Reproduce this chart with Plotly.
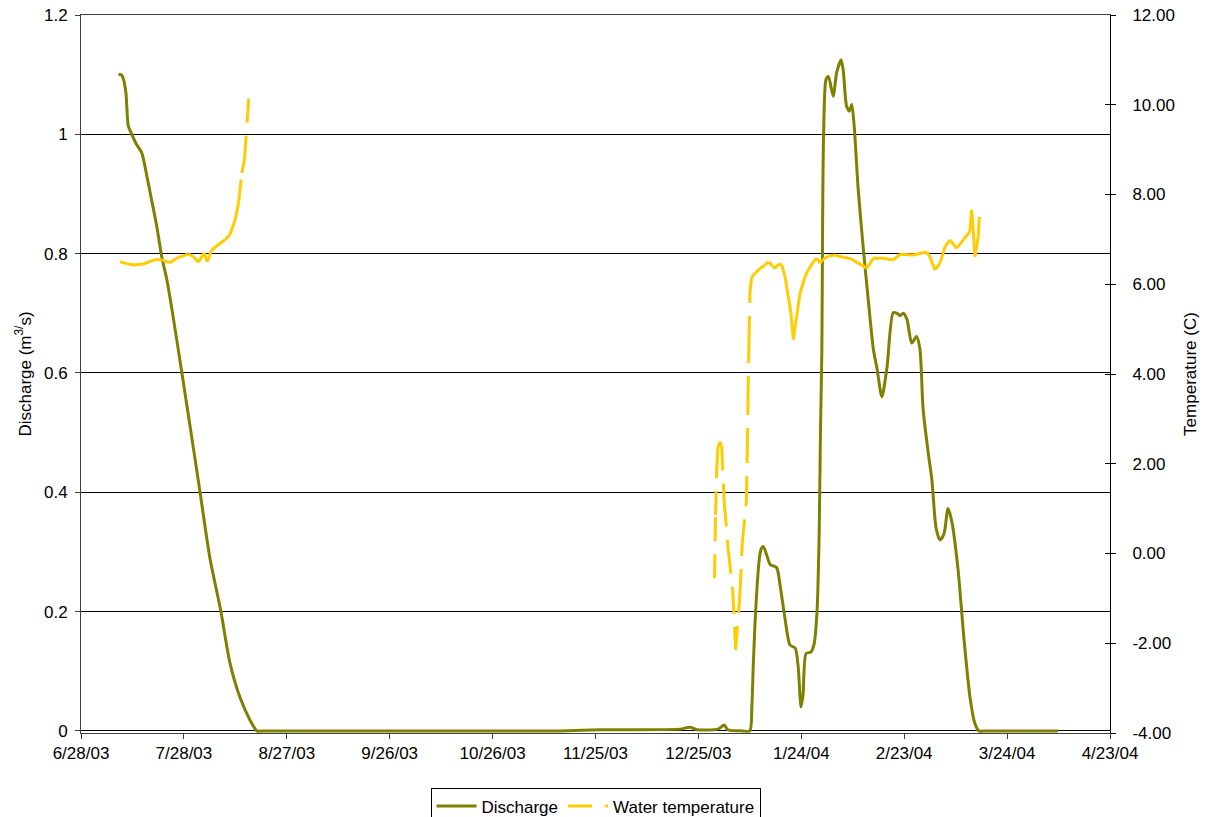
import plotly.graph_objects as go

# ---------------- data ----------------
discharge_dates = [
    "2003-07-08 22:00", "2003-07-09 17:00", "2003-07-10 07:00", "2003-07-11 02:00",
    "2003-07-11 19:00", "2003-07-12 19:00", "2003-07-14 05:00", "2003-07-15 17:00",
    "2003-07-17 05:00", "2003-07-18 14:00", "2003-07-20 02:00", "2003-07-21 12:00",
    "2003-07-23 00:00", "2003-07-24 12:00", "2003-07-27 10:00", "2003-07-30 02:00",
    "2003-08-01 17:00", "2003-08-04 14:00", "2003-08-07 19:00", "2003-08-10 10:00",
    "2003-08-13 10:00", "2003-08-16 07:00", "2003-08-18 07:00", "2003-08-20 12:00",
    "2003-11-12 00:00", "2003-11-14 17:00",
    "2003-11-26 07:00", "2003-12-19 14:00", "2003-12-22 14:00", "2003-12-24 14:00",
    "2003-12-30 17:00", "2004-01-01 12:00", "2004-01-02 14:00", "2004-01-07 00:00",
    "2004-01-09 00:00",
    "2004-01-09 14:00", "2004-01-10 00:00", "2004-01-10 12:00", "2004-01-11 02:00",
    "2004-01-11 19:00", "2004-01-12 07:00", "2004-01-12 22:00", "2004-01-13 22:00",
    "2004-01-14 22:00", "2004-01-16 19:00", "2004-01-17 19:00", "2004-01-19 05:00",
    "2004-01-20 17:00", "2004-01-22 05:00", "2004-01-23 02:00", "2004-01-23 22:00",
    "2004-01-24 12:00", "2004-01-25 10:00", "2004-01-26 19:00", "2004-01-27 17:00",
    "2004-01-28 14:00", "2004-01-29 05:00", "2004-01-29 14:00", "2004-01-30 00:00",
    "2004-01-30 05:00", "2004-01-30 12:00", "2004-01-31 05:00", "2004-01-31 22:00",
    "2004-02-02 07:00", "2004-02-03 07:00", "2004-02-04 14:00", "2004-02-05 05:00",
    "2004-02-06 05:00", "2004-02-07 00:00", "2004-02-07 17:00", "2004-02-08 10:00",
    "2004-02-09 14:00", "2004-02-11 02:00", "2004-02-12 12:00", "2004-02-14 00:00",
    "2004-02-15 02:00", "2004-02-16 12:00", "2004-02-18 00:00", "2004-02-19 19:00",
    "2004-02-20 22:00", "2004-02-21 19:00", "2004-02-22 17:00", "2004-02-23 19:00",
    "2004-02-25 05:00", "2004-02-26 14:00", "2004-02-27 14:00", "2004-02-28 12:00",
    "2004-02-29 22:00", "2004-03-02 02:00", "2004-03-03 07:00", "2004-03-04 10:00",
    "2004-03-05 14:00", "2004-03-06 19:00", "2004-03-07 22:00", "2004-03-09 17:00",
    "2004-03-11 10:00", "2004-03-13 05:00", "2004-03-14 14:00", "2004-03-15 19:00",
    "2004-03-18 00:00", "2004-04-07 19:00",
]
discharge_m3s = [
    1.100, 1.100, 1.094, 1.070, 1.014, 1.000, 0.983, 0.969,
    0.930, 0.890, 0.846, 0.796, 0.757, 0.707, 0.600, 0.500,
    0.400, 0.290, 0.200, 0.114, 0.055, 0.018, 0.000, 0.000,
    0.000, 0.000,
    0.002, 0.003, 0.006, 0.002, 0.003, 0.010, 0.002, 0.000,
    0.000,
    0.040, 0.110, 0.180, 0.240, 0.290, 0.305, 0.309, 0.295,
    0.279, 0.274, 0.245, 0.190, 0.144, 0.139, 0.108, 0.040,
    0.060, 0.130, 0.132, 0.145, 0.200, 0.330, 0.500, 0.640,
    0.850, 1.000, 1.092, 1.097, 1.064, 1.103, 1.125, 1.108,
    1.047, 1.039, 1.050, 1.014, 0.908, 0.808, 0.724, 0.640,
    0.607, 0.560, 0.610, 0.701, 0.700, 0.696, 0.700, 0.690,
    0.650, 0.661, 0.640, 0.540, 0.470, 0.420, 0.340, 0.320,
    0.330, 0.373, 0.350, 0.270, 0.155, 0.055, 0.013, 0.000,
    0.000, 0.000,
]

# water temperature, first deployment (summer 2003)
temp1_dates = [
    "2003-07-09 10:00", "2003-07-11 07:00", "2003-07-13 05:00", "2003-07-16 05:00",
    "2003-07-19 02:00", "2003-07-21 12:00", "2003-07-23 22:00", "2003-07-26 10:00",
    "2003-07-29 07:00", "2003-07-30 17:00", "2003-08-01 05:00", "2003-08-02 22:00",
    "2003-08-03 19:00", "2003-08-05 02:00", "2003-08-07 00:00", "2003-08-09 00:00",
    "2003-08-10 10:00", "2003-08-11 22:00", "2003-08-12 22:00", "2003-08-13 22:00",
    "2003-08-14 16:00", "2003-08-16 02:00",
]
temp1_c = [
    6.50, 6.46, 6.43, 6.45, 6.54, 6.55, 6.48, 6.60,
    6.67, 6.62, 6.49, 6.70, 6.50, 6.76, 6.88, 6.99,
    7.10, 7.43, 7.80, 8.48, 8.78, 10.33,
]

# water temperature, second deployment (winter 2003-04)
temp2_dates = [
    "2003-12-29 17:00", "2003-12-30 00:00", "2003-12-30 08:00", "2003-12-30 17:00",
    "2003-12-31 07:00", "2003-12-31 19:00", "2004-01-01 13:00", "2004-01-02 17:00",
    "2004-01-04 00:00", "2004-01-04 21:00", "2004-01-06 03:00", "2004-01-06 19:00",
    "2004-01-08 00:00", "2004-01-08 06:00", "2004-01-08 11:00", "2004-01-08 18:00",
    "2004-01-09 01:00", "2004-01-09 13:00", "2004-01-10 12:00", "2004-01-11 23:00",
    "2004-01-13 10:00", "2004-01-14 09:00", "2004-01-15 09:00", "2004-01-16 08:00",
    "2004-01-17 07:00", "2004-01-18 07:00", "2004-01-19 06:00", "2004-01-20 05:00",
    "2004-01-21 00:00", "2004-01-21 16:00", "2004-01-22 04:00", "2004-01-22 16:00",
    "2004-01-23 15:00", "2004-01-25 02:00", "2004-01-26 01:00", "2004-01-27 12:00",
    "2004-01-28 12:00", "2004-01-29 11:00", "2004-01-30 03:00", "2004-01-31 21:00",
    "2004-02-02 20:00", "2004-02-05 06:00", "2004-02-07 17:00", "2004-02-09 15:00",
    "2004-02-12 02:00", "2004-02-14 00:00", "2004-02-16 22:00", "2004-02-19 20:00",
    "2004-02-21 19:00", "2004-02-25 16:00", "2004-02-29 13:00", "2004-03-01 12:00",
    "2004-03-02 23:00", "2004-03-04 11:00", "2004-03-05 22:00", "2004-03-07 08:00",
    "2004-03-09 07:00", "2004-03-11 06:00", "2004-03-13 04:00", "2004-03-13 16:00",
    "2004-03-14 04:00", "2004-03-14 15:00", "2004-03-15 14:00", "2004-03-15 22:00",
]
temp2_c = [
    -0.55, 0.86, 1.86, 2.37, 2.49, 2.38, 1.13, 0.08,
    -0.81, -2.15, -0.88, 0.23, 1.19, 2.26, 3.42, 4.76,
    5.83, 6.16, 6.24, 6.35, 6.43, 6.50, 6.43, 6.35,
    6.45, 6.43, 6.17, 5.72, 5.35, 4.76, 5.05, 5.28,
    5.80, 6.17, 6.32, 6.50, 6.58, 6.47, 6.54, 6.63,
    6.65, 6.60, 6.56, 6.47, 6.36, 6.58, 6.58, 6.54,
    6.67, 6.65, 6.72, 6.61, 6.32, 6.47, 6.84, 6.99,
    6.80, 6.99, 7.17, 7.66, 7.17, 6.61, 7.06, 7.50,
]

x_tick_dates = ["2003-06-28", "2003-07-28", "2003-08-27", "2003-09-26", "2003-10-26",
                "2003-11-25", "2003-12-25", "2004-01-24", "2004-02-23", "2004-03-24",
                "2004-04-23"]
x_tick_labels = ["6/28/03", "7/28/03", "8/27/03", "9/26/03", "10/26/03", "11/25/03",
                 "12/25/03", "1/24/04", "2/23/04", "3/24/04", "4/23/04"]
q_ticks = [0, 0.2, 0.4, 0.6, 0.8, 1.0, 1.2]
q_tick_labels = ["0", "0.2", "0.4", "0.6", "0.8", "1", "1.2"]
t_ticks = [-4, -2, 0, 2, 4, 6, 8, 10, 12]
t_tick_labels = ["%.2f" % v for v in t_ticks]

# ---------------- styling ----------------
OLIVE = "#808000"
GOLD = "#FFCC00"
FONT = "Liberation Sans, Arial, sans-serif"
FS = 17


def per_segment(dates, vals):
    """Each consecutive pair becomes its own sub-path, so the dash pattern
    restarts at every data point (as in the original spreadsheet chart)."""
    xs, ys = [], []
    for i in range(len(dates) - 1):
        xs += [dates[i], dates[i + 1], None]
        ys += [vals[i], vals[i + 1], None]
    return xs, ys


tx1, ty1 = per_segment(temp1_dates, temp1_c)
tx2, ty2 = per_segment(temp2_dates, temp2_c)
tx = tx1 + tx2
ty = ty1 + ty2

fig = go.Figure()
fig.add_trace(go.Scatter(
    x=discharge_dates, y=discharge_m3s, name="Discharge", mode="lines",
    line=dict(color=OLIVE, width=3, shape="spline", smoothing=0.7),
    yaxis="y",
))
fig.add_trace(go.Scatter(
    x=tx, y=ty, name="Water temperature", mode="lines",
    line=dict(color=GOLD, width=3, dash="24px,13px"),
    connectgaps=False, yaxis="y2",
))
# helper (empty) trace so the inner half of the right-axis cross ticks is drawn
fig.add_trace(go.Scatter(x=[], y=[], yaxis="y3", showlegend=False, hoverinfo="skip"))

fig.update_layout(
    width=1210, height=817,
    paper_bgcolor="white", plot_bgcolor="white",
    margin=dict(l=81, r=100, t=15, b=84, autoexpand=False),
    font=dict(family=FONT, size=FS, color="black"),
    showlegend=True,
    legend=dict(
        orientation="h", x=0.5, xanchor="center", y=-0.076, yanchor="top",
        bordercolor="black", borderwidth=1, bgcolor="white",
        font=dict(family=FONT, size=FS, color="black"),
        itemwidth=40, tracegroupgap=0,
    ),
    xaxis=dict(
        type="date", range=["2003-06-28", "2004-04-23"],
        tickvals=x_tick_dates, ticktext=x_tick_labels,
        ticks="outside", ticklen=5, tickcolor="#404040", tickwidth=1,
        showline=True, linecolor="#404040", linewidth=1, mirror=True,
        showgrid=False, zeroline=False,
        tickfont=dict(family=FONT, size=FS, color="black"),
    ),
    yaxis=dict(
        range=[-0.0035, 1.2], tickvals=q_ticks, ticktext=q_tick_labels,
        ticks="outside", ticklen=5, tickcolor="#404040",
        showline=True, linecolor="#404040", linewidth=1,
        showgrid=True, gridcolor="black", gridwidth=1, zeroline=False,
        ticklabelstandoff=4,
        tickfont=dict(family=FONT, size=FS, color="black"),
        title=dict(text="Discharge (m<sup>3/</sup>s)", standoff=8,
                   font=dict(family=FONT, size=FS, color="black")),
    ),
    yaxis2=dict(
        range=[-4, 12], tickvals=t_ticks, ticktext=t_tick_labels,
        overlaying="y", side="right",
        ticks="outside", ticklen=5, tickcolor="black",
        showline=True, linecolor="black", linewidth=1,
        showgrid=False, zeroline=False, ticklabelstandoff=13,
        tickfont=dict(family=FONT, size=FS, color="black"),
        title=dict(text="Temperature (C)", standoff=10,
                   font=dict(family=FONT, size=FS, color="black")),
    ),
    yaxis3=dict(
        range=[-4, 12], tickvals=t_ticks, overlaying="y", side="right",
        ticks="inside", ticklen=5, tickcolor="black", showticklabels=False,
        showline=False, showgrid=False, zeroline=False,
    ),
)

# remove the browser's default 8px body margin so the figure sits at (0, 0)
fig.write_html("out.html", config={"displayModeBar": False},
               post_script="document.body.style.margin='0';")
